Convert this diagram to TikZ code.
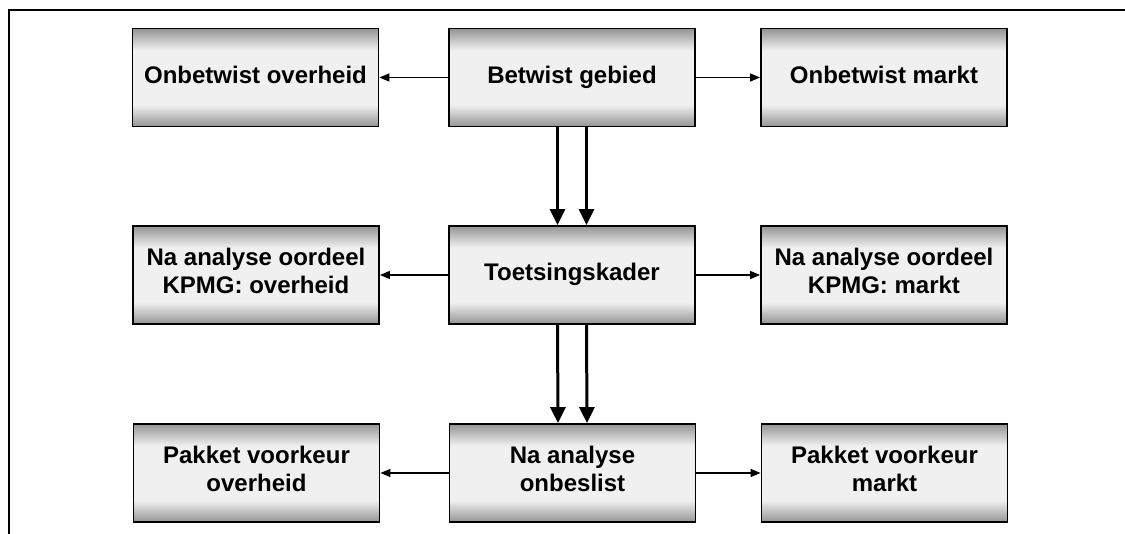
\documentclass[tikz,border=0pt]{standalone}
\usepackage{fontspec}
\setmainfont{Liberation Sans}
\usetikzlibrary{arrows.meta}

\pgfdeclareverticalshading{boxshade}{100bp}{color(0bp)=(black!42); color(25bp)=(black!42); color(36bp)=(black!6); color(64bp)=(black!6); color(75bp)=(black!42); color(100bp)=(black!42)}

\begin{document}
\begin{tikzpicture}[x=1pt,y=-1pt,
	box/.style={draw=black, line width=1.8pt, shading=boxshade, minimum width=246pt, minimum height=98pt, inner sep=0pt, align=center, font=\fontsize{24}{28}\selectfont\bfseries, execute at begin node=\strut, execute at end node=\strut},
	side/.style={-{Triangle[length=10pt,width=8pt]}, line width=1.3pt},
	flow/.style={-{Triangle[length=16pt,width=15pt]}, line width=3pt}]
	\useasboundingbox (0,0) rectangle (1125,534);
	
	% Frame
	\draw[line width=1.4pt] (9,534) -- (9,10) -- (1125,10);
	
	% Shapes
	\node[box] (OO) at (255.5,77.5) {Onbetwist overheid};
	\node[box] (BG) at (572,77.5) {Betwist gebied};
	\node[box] (OM) at (884,77.5) {Onbetwist markt};
	
	\node[box] (KO) at (256,275) {Na analyse oordeel\\KPMG: overheid};
	\node[box] (TK) at (572,275) {Toetsingskader};
	\node[box] (KM) at (884,275) {Na analyse oordeel\\KPMG: markt};
	
	\node[box] (PO) at (256.5,473) {Pakket voorkeur\\overheid};
	\node[box] (NO) at (572.5,473) {Na analyse\\onbeslist};
	\node[box] (PM) at (884.5,473) {Pakket voorkeur\\markt};
	
	% Arrows
	\foreach \from/\left/\right in {BG/OO/OM, TK/KO/KM, NO/PO/PM} {
		\draw[side] (\from.west) -- (\left.east);
		\draw[side] (\from.east) -- (\right.west);
	}
	\foreach \from/\to in {BG/TK, TK/NO} {
		\draw[flow] ([xshift=-14.5pt]\from.south) -- ([xshift=-14.5pt]\to.north);
		\draw[flow] ([xshift=14.5pt]\from.south) -- ([xshift=14.5pt]\to.north);
	}
\end{tikzpicture}
\end{document}
